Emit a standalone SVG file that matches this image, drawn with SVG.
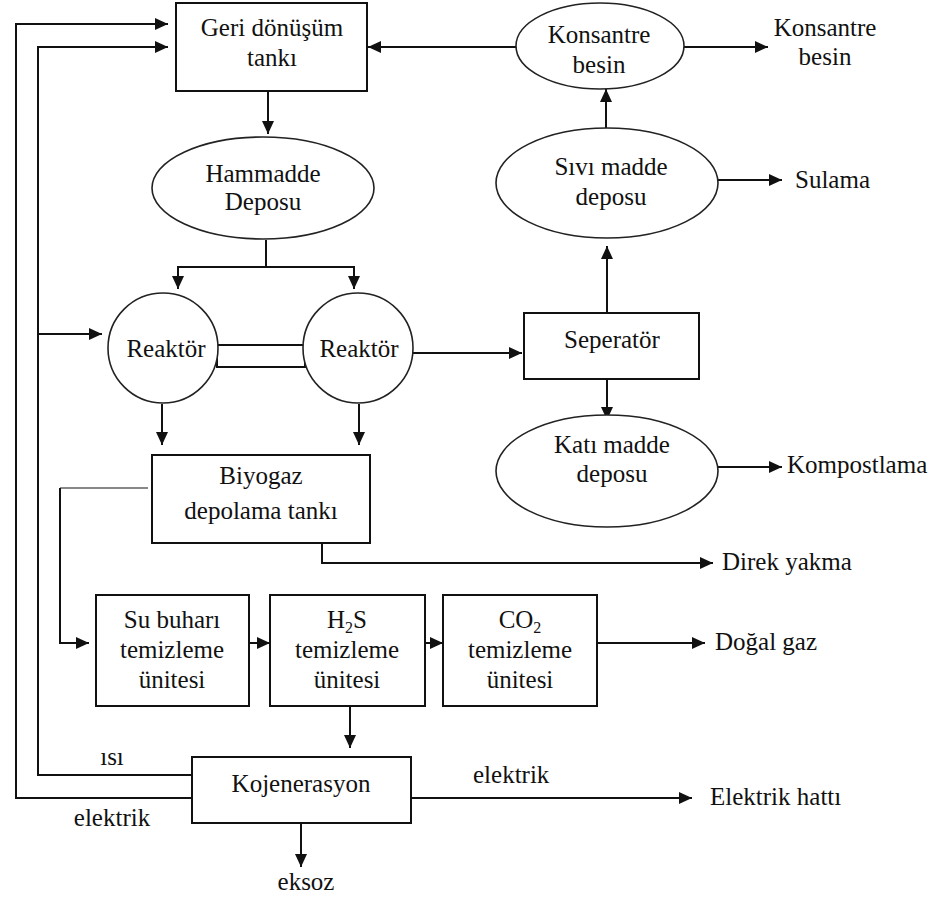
<svg xmlns="http://www.w3.org/2000/svg" width="947" height="897" viewBox="0 0 947 897">
<style>
text{font-family:'Liberation Serif','Times New Roman',serif;font-size:25px;fill:#111;}
tspan.sub{font-size:16px;}
.c{text-anchor:middle;}
.box{fill:#fff;stroke:#111;stroke-width:2;}
.ell{fill:#fff;stroke:#222;stroke-width:1.6;}
.ln{fill:none;stroke:#111;stroke-width:2;}
.gr{fill:none;stroke:#888;stroke-width:2;}
</style>
<defs>
<marker id="ah" viewBox="0 0 13 12" markerWidth="13" markerHeight="12" refX="13" refY="6" orient="auto" markerUnits="userSpaceOnUse">
<path d="M0,0 L13,6 L0,12 z" fill="#111"/>
</marker>
</defs>
<rect width="947" height="897" fill="#fff"/>
<g id="connectors">
<path class="ln" d="M516,47 L368,47" marker-end="url(#ah)"/>
<path class="ln" d="M192,798 L16,798 L16,24 L168,24" marker-end="url(#ah)"/>
<path class="ln" d="M192,775 L38,775 L38,47 L168,47" marker-end="url(#ah)"/>
<path class="ln" d="M38,334 L102,334" marker-end="url(#ah)"/>
<path class="ln" d="M268,91 L268,134" marker-end="url(#ah)"/>
<path class="ln" d="M266,240 L266,267"/>
<path class="ln" d="M266,267 L178,267 L178,289" marker-end="url(#ah)"/>
<path class="ln" d="M266,267 L354,267 L354,289" marker-end="url(#ah)"/>
<path class="ln" d="M413,353 L522,353" marker-end="url(#ah)"/>
<path class="ln" d="M162,404 L162,445" marker-end="url(#ah)"/>
<path class="ln" d="M359,404 L359,445" marker-end="url(#ah)"/>
<path class="gr" d="M148,488 L60,488"/>
<path class="ln" d="M60,488 L60,643 L89,643" marker-end="url(#ah)"/>
<path class="ln" d="M322,543 L322,563 L713,563" marker-end="url(#ah)"/>
<path class="ln" d="M249,643 L270,643" marker-end="url(#ah)"/>
<path class="ln" d="M425,643 L443,643" marker-end="url(#ah)"/>
<path class="ln" d="M597,643 L705,643" marker-end="url(#ah)"/>
<path class="ln" d="M350,706 L350,748" marker-end="url(#ah)"/>
<path class="ln" d="M411,798 L692,798" marker-end="url(#ah)"/>
<path class="ln" d="M301,823 L301,867" marker-end="url(#ah)"/>
<path class="ln" d="M607,313 L607,246" marker-end="url(#ah)"/>
<path class="ln" d="M606,128 L606,89" marker-end="url(#ah)"/>
<path class="ln" d="M607,379 L607,420" marker-end="url(#ah)"/>
<path class="ln" d="M717,467 L782,467" marker-end="url(#ah)"/>
<path class="ln" d="M718,180 L782,180" marker-end="url(#ah)"/>
<path class="ln" d="M683,47 L768,47" marker-end="url(#ah)"/>
</g>
<g id="geri">
<rect class="box" x="176" y="3" width="191" height="88"/>
<text class="c" x="272" y="36">Geri dönüşüm</text>
<text class="c" x="272" y="66">tankı</text>
</g>
<g id="hammadde">
<ellipse class="ell" cx="263" cy="188" rx="111" ry="51"/>
<text class="c" x="263" y="182">Hammadde</text>
<text class="c" x="263" y="210">Deposu</text>
</g>
<g id="reaktor-link">
<rect class="box" x="217" y="345" width="88" height="22"/>
</g>
<g id="reaktor1">
<circle class="ell" cx="163" cy="348" r="55"/>
<text class="c" x="166" y="357">Reaktör</text>
</g>
<g id="reaktor2">
<circle class="ell" cx="358" cy="348" r="55"/>
<text class="c" x="359" y="357">Reaktör</text>
</g>
<g id="biyogaz">
<rect class="box" x="152" y="455" width="218" height="88"/>
<text class="c" x="261" y="484">Biyogaz</text>
<text class="c" x="261" y="519">depolama tankı</text>
</g>
<g id="subuhari">
<rect class="box" x="96" y="595" width="153" height="111"/>
<text class="c" x="172" y="628">Su buharı</text>
<text class="c" x="172" y="658">temizleme</text>
<text class="c" x="172" y="688">ünitesi</text>
</g>
<g id="h2s">
<rect class="box" x="270" y="595" width="155" height="111"/>
<text class="c" x="347" y="628">H<tspan class="sub" dy="5">2</tspan><tspan dy="-5">S</tspan></text>
<text class="c" x="347" y="658">temizleme</text>
<text class="c" x="347" y="688">ünitesi</text>
</g>
<g id="co2">
<rect class="box" x="443" y="595" width="154" height="111"/>
<text class="c" x="520" y="628">CO<tspan class="sub" dy="5">2</tspan></text>
<text class="c" x="520" y="658">temizleme</text>
<text class="c" x="520" y="688">ünitesi</text>
</g>
<g id="kojenerasyon">
<rect class="box" x="192" y="757" width="219" height="66"/>
<text class="c" x="301" y="792">Kojenerasyon</text>
</g>
<g id="konsantre">
<ellipse class="ell" cx="600" cy="46" rx="84" ry="43"/>
<text class="c" x="599" y="43">Konsantre</text>
<text class="c" x="599" y="73">besin</text>
</g>
<g id="sivi">
<ellipse class="ell" cx="607" cy="183" rx="111" ry="55"/>
<text class="c" x="611" y="175">Sıvı madde</text>
<text class="c" x="611" y="205">deposu</text>
</g>
<g id="seperator">
<rect class="box" x="524" y="313" width="175" height="66"/>
<text class="c" x="612" y="348">Seperatör</text>
</g>
<g id="kati">
<ellipse class="ell" cx="607" cy="471" rx="111" ry="56"/>
<text class="c" x="612" y="453">Katı madde</text>
<text class="c" x="612" y="482">deposu</text>
</g>
<g id="labels">
<text class="c" x="825" y="36">Konsantre</text>
<text class="c" x="825" y="65">besin</text>
<text x="795" y="188">Sulama</text>
<text x="787" y="473">Kompostlama</text>
<text x="722" y="570">Direk yakma</text>
<text x="715" y="650">Doğal gaz</text>
<text x="473" y="783">elektrik</text>
<text x="710" y="805">Elektrik hattı</text>
<text class="c" x="112" y="765">ısı</text>
<text class="c" x="112" y="826">elektrik</text>
<text class="c" x="306" y="890">eksoz</text>
</g>
</svg>
